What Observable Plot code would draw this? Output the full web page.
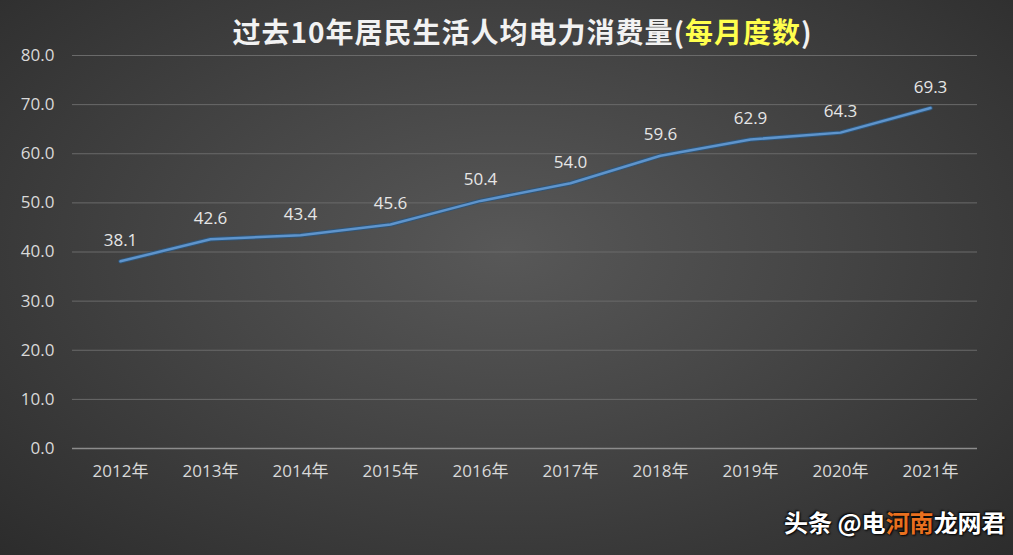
<!DOCTYPE html>
<html><head><meta charset="utf-8">
<script src="https://cdn.jsdelivr.net/npm/d3@7"></script>
<script src="https://cdn.jsdelivr.net/npm/@observablehq/plot@0.6"></script>
<style>
html,body{margin:0;padding:0;}
body{width:1013px;height:555px;overflow:hidden;position:relative;
 background: radial-gradient(ellipse at 50% 45%, #585858 0%, #474747 40%, #2c2c2c 100%);
 font-family:"Noto Sans CJK SC","Noto Sans",sans-serif;}
#title{height:40px;line-height:62px;text-align:center;padding-left:32px;color:#f2f2f2;font-size:28px;font-weight:bold;letter-spacing:1px;}
#title span{color:#ffff4d;}
#chart svg text{font-size:17px;}
#wm{position:absolute;left:784px;top:504px;font-size:24px;font-weight:bold;color:#fff;text-shadow:1px 1px 2px #000,-1px -1px 2px #000;}
#wm .o{color:#e8701f;}
</style></head><body>
<div id="title">过去10年居民生活人均电力消费量(<span>每月度数</span>)</div>
<div id="chart"></div>
<div id="wm">头条 @电<span class="o">河南</span>龙网君</div>
<script>
const years = ["2012年","2013年","2014年","2015年","2016年","2017年","2018年","2019年","2020年","2021年"];
const values = [38.1,42.6,43.4,45.6,50.4,54.0,59.6,62.9,64.3,69.3];
const yTicks = [0,10,20,30,40,50,60,70,80];
const data = years.map((y,i)=>({year:y, value:values[i]}));
const chart = Plot.plot({
  width:1013, height:515,
  marginTop:15, marginBottom:107, marginLeft:72, marginRight:36,
  style:{background:"transparent", color:"#d9d9d9", fontSize:"17px", fontFamily:"'Open Sans','Noto Sans CJK SC',sans-serif"},
  x:{type:"point", domain:years, padding:0.5, label:null},
  y:{domain:[0,80], label:null},
  marks:[
    Plot.gridY(yTicks.filter(d=>d>0), {stroke:"#6a6a6a", strokeOpacity:1, strokeWidth:1}),
    Plot.ruleY([0], {stroke:"#8c8c8c", strokeWidth:1.5}),
    Plot.axisY(yTicks, {tickSize:0, tickPadding:18, tickFormat:d=>d.toFixed(1), fontSize:17, fill:"#d9d9d9", label:null}),
    Plot.axisX({tickSize:0, tickPadding:16, fontSize:17, fill:"#d9d9d9", label:null}),
    Plot.line(data, {x:"year", y:"value", stroke:"#2f5578", strokeWidth:4.5}),
    Plot.line(data, {x:"year", y:"value", stroke:"#5e94cc", strokeWidth:2.5}),
    Plot.text(data, {x:"year", y:"value", text:d=>d.value.toFixed(1), dy:-21, fontSize:17, fill:"#e6e6e6"})
  ]
});
document.getElementById("chart").appendChild(chart);
</script>
</body></html>
